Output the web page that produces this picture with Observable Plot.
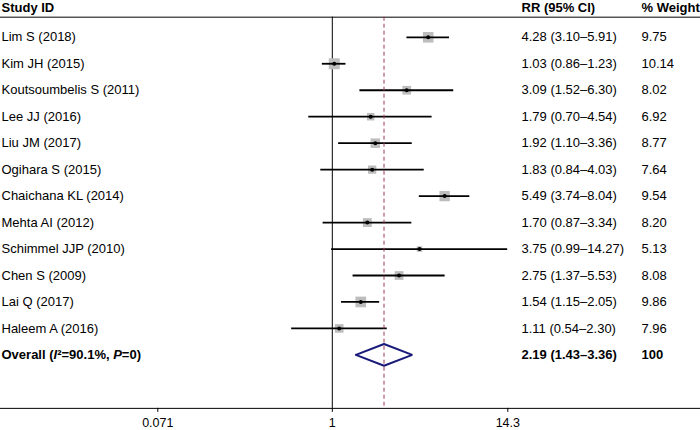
<!DOCTYPE html>
<html>
<head>
<meta charset="utf-8">
<script src="https://cdn.jsdelivr.net/npm/d3@7"></script>
<script src="https://cdn.jsdelivr.net/npm/@observablehq/plot@0.6"></script>
<style>
  html, body { margin: 0; padding: 0; background: #fff; }
  #chart svg { display: block; font-family: "Liberation Sans", Arial, sans-serif; }
</style>
</head>
<body>
<div id="chart"></div>
<script>
// ---- Data ----
const studies = ["Lim S (2018)", "Kim JH (2015)", "Koutsoumbelis S (2011)", "Lee JJ (2016)", "Liu JM (2017)",
  "Ogihara S (2015)", "Chaichana KL (2014)", "Mehta AI (2012)", "Schimmel JJP (2010)", "Chen S (2009)",
  "Lai Q (2017)", "Haleem A (2016)"];
const rr     = [4.28, 1.03, 3.09, 1.79, 1.92, 1.83, 5.49, 1.70, 3.75, 2.75, 1.54, 1.11];
const lower  = [3.10, 0.86, 1.52, 0.70, 1.10, 0.84, 3.74, 0.87, 0.99, 1.37, 1.15, 0.54];
const upper  = [5.91, 1.23, 6.30, 4.54, 3.36, 4.03, 8.04, 3.34, 14.27, 5.53, 2.05, 2.30];
const weight = [9.75, 10.14, 8.02, 6.92, 8.77, 7.64, 9.54, 8.20, 5.13, 8.08, 9.86, 7.96];

const overallLabel = "Overall (I²=90.1%, P=0)";
const overallRR = 2.19, overallLower = 1.43, overallUpper = 3.36, overallWeight = 100;

const headers = ["Study ID", "RR (95% CI)", "% Weight"];
const xTicks = [0.071, 1, 14.3];
const xTickLabels = ["0.071", "1", "14.3"];

// ---- Derived tables ----
const fmt = d3.format(".2f");
const rows = studies.map((s, i) => ({
  study: s, row: i, rr: rr[i], lo: lower[i], hi: upper[i], w: weight[i],
  ci: `${fmt(rr[i])} (${fmt(lower[i])}–${fmt(upper[i])})`,
  wt: fmt(weight[i])
}));
const overallRow = studies.length;
const overall = {
  study: overallLabel, row: overallRow, rr: overallRR, lo: overallLower, hi: overallUpper,
  ci: `${fmt(overallRR)} (${fmt(overallLower)}–${fmt(overallUpper)})`, wt: String(overallWeight)
};
const rowPx = 26.45;
const headerRow = -1.13, headerLine = -0.76, axisRow = 14.02;
const dh = 0.41;
const diamond = [
  {x: overall.lo, y: overallRow}, {x: overall.rr, y: overallRow - dh},
  {x: overall.hi, y: overallRow}, {x: overall.rr, y: overallRow + dh},
  {x: overall.lo, y: overallRow}
];
const colDx = [1, 521, 641];
const headerData = headers.map((h, i) => ({h, dx: colDx[i]}));
const tickData = xTicks.map((v, i) => ({v, label: xTickLabels[i]}));

const font = "Liberation Sans, Arial, sans-serif";
const fs = 13;
const txt = {frameAnchor: "left", textAnchor: "start", fill: "#000", fontSize: fs};

const chart = Plot.plot({
  width: 700, height: 430,
  marginLeft: 0, marginRight: 0, marginTop: 0, marginBottom: 22.3,
  style: {fontFamily: font, fontSize: fs + "px", color: "#000", background: "#fff"},
  x: {type: "log", domain: [0.071, 14.3], range: [157.3, 507.3], axis: null},
  y: {type: "linear", domain: [0, 12], range: [36.8, 354.4], axis: null},
  r: {type: "linear", domain: [0, 10.14], range: [0, 6.2]},
  marks: [
    Plot.ruleY([headerLine, axisRow], {stroke: "#000", strokeWidth: 1}),
    Plot.ruleX([1], {y1: headerLine, y2: axisRow, stroke: "#000", strokeWidth: 1}),
    Plot.dot(rows, {x: "rr", y: "row", r: "w", symbol: "square", fill: "#bdbdbd", stroke: "none"}),
    Plot.ruleY(rows, {y: "row", x1: "lo", x2: "hi", stroke: "#000", strokeWidth: 1.8}),
    Plot.dot(rows, {x: "rr", y: "row", r: 2, fill: "#000", stroke: "none"}),
    Plot.line(diamond, {x: "x", y: "y", stroke: "#1a1a7a", strokeWidth: 2, fill: "none", strokeLinejoin: "miter"}),
    Plot.ruleX([overallRR], {y1: headerLine, y2: axisRow, stroke: "#9e3a4f", strokeWidth: 1, strokeDasharray: "4,3"}),
    // Column texts
    Plot.text(rows, {...txt, y: "row", text: "study", dx: colDx[0]}),
    Plot.text(rows, {...txt, y: "row", text: "ci", dx: colDx[1]}),
    Plot.text(rows, {...txt, y: "row", text: "wt", dx: colDx[2]}),
    Plot.text([overall], {...txt, y: "row", text: "study", dx: colDx[0], fontWeight: "bold"}),
    Plot.text([overall], {...txt, y: "row", text: "ci", dx: colDx[1], fontWeight: "bold"}),
    Plot.text([overall], {...txt, y: "row", text: "wt", dx: colDx[2], fontWeight: "bold"}),
    // Header
    ...headerData.map(h => Plot.text([h], {...txt, y: () => headerRow, text: "h", dx: h.dx, fontWeight: "bold"})),
    // Axis ticks and labels
    Plot.ruleX(tickData, {x: "v", y1: axisRow, y2: axisRow + 4 / rowPx, stroke: "#000", strokeWidth: 1}),
    Plot.text(tickData, {x: "v", y: () => axisRow + 14.5 / rowPx, text: "label", fill: "#000", fontSize: 12.5, textAnchor: "middle"})
  ]
});

document.getElementById("chart").appendChild(chart);

d3.select(chart).selectAll("text").each(function() {
  if (this.textContent === overallLabel) {
    const el = d3.select(this);
    el.text("");
    el.append("tspan").text("Overall (");
    el.append("tspan").attr("font-style", "italic").text("I");
    el.append("tspan").text("²=90.1%, ");
    el.append("tspan").attr("font-style", "italic").text("P");
    el.append("tspan").text("=0)");
  }
});
</script>
</body>
</html>
